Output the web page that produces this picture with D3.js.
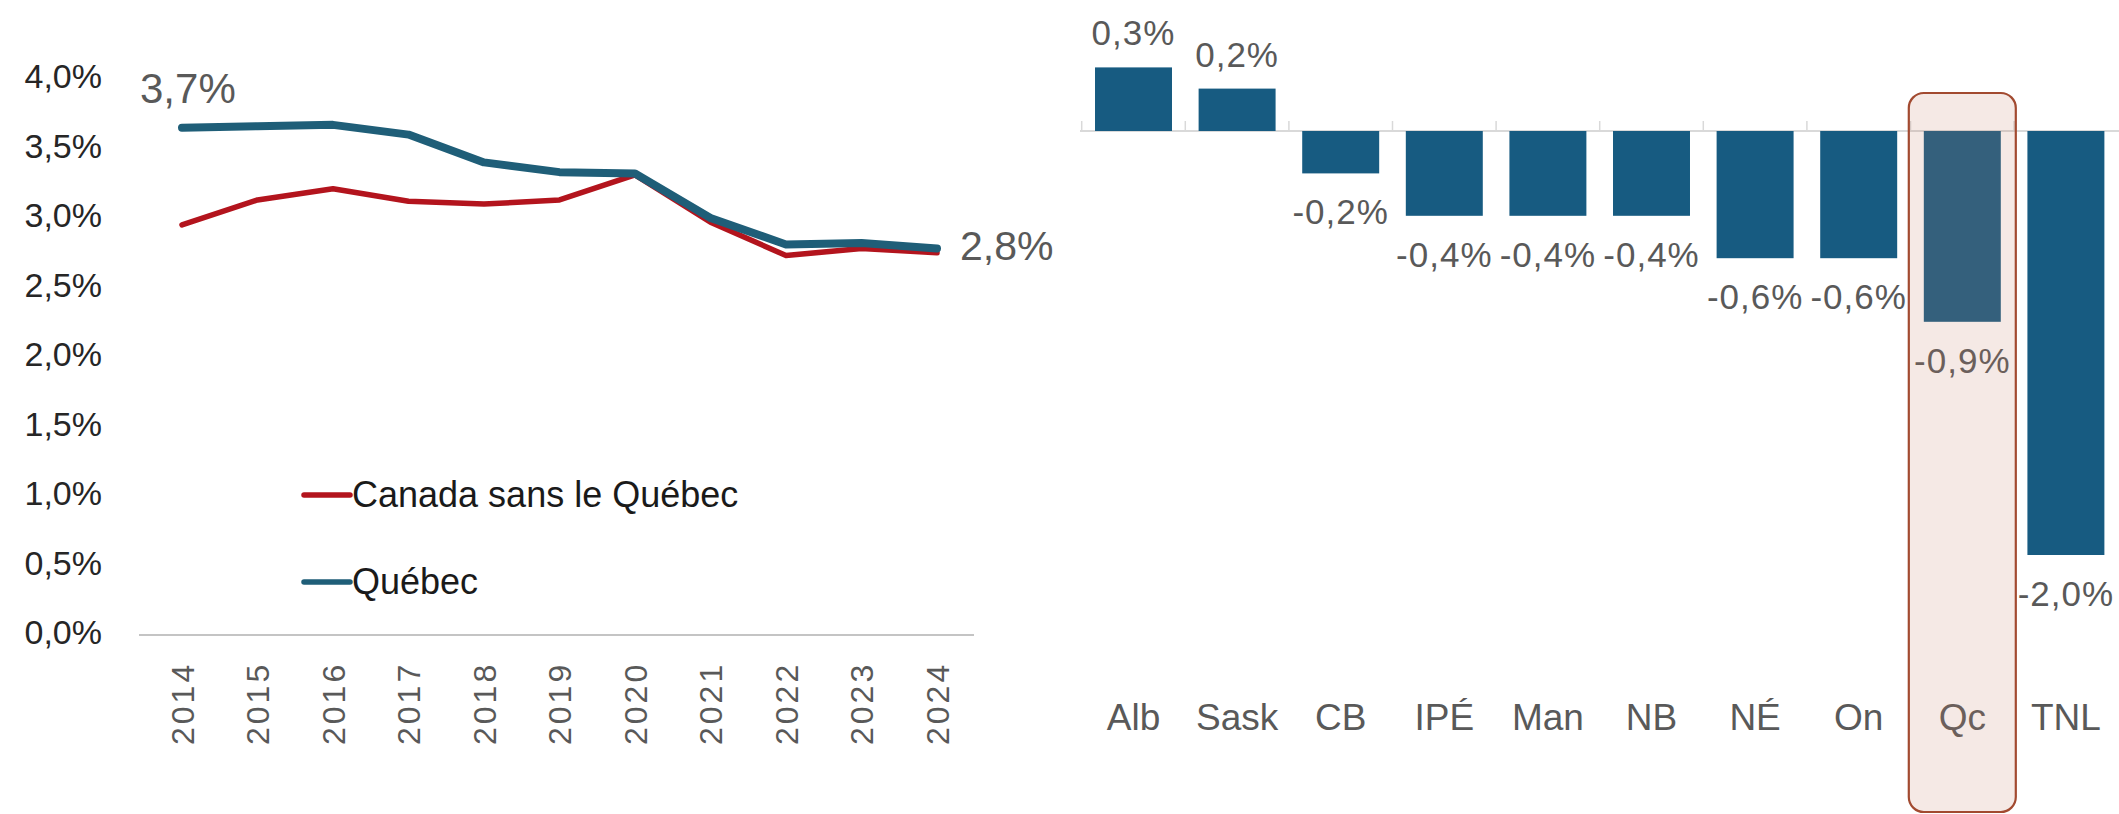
<!DOCTYPE html>
<html>
<head>
<meta charset="utf-8">
<script src="https://cdn.jsdelivr.net/npm/d3@7"></script>
<style>
  html, body { margin: 0; padding: 0; background: #ffffff; }
  svg { display: block; }
  text { font-family: "Liberation Sans", Arial, sans-serif; }
</style>
</head>
<body>
<svg id="chart" width="2119" height="814"></svg>
<script>
// ---------- data ----------
const years = [2014, 2015, 2016, 2017, 2018, 2019, 2020, 2021, 2022, 2023, 2024];
const quebec = [3.65, 3.66, 3.67, 3.60, 3.40, 3.33, 3.32, 3.00, 2.81, 2.82, 2.78];
const canadaSansQuebec = [2.95, 3.13, 3.21, 3.12, 3.10, 3.13, 3.31, 2.97, 2.73, 2.78, 2.75];
const yTicks = [0, 0.5, 1, 1.5, 2, 2.5, 3, 3.5, 4];
const seriesNames = ["Canada sans le Québec", "Québec"];
const firstLabel = "3,7%";
const lastLabel = "2,8%";

const provinces = ["Alb", "Sask", "CB", "IPÉ", "Man", "NB", "NÉ", "On", "Qc", "TNL"];
const growth = [0.3, 0.2, -0.2, -0.4, -0.4, -0.4, -0.6, -0.6, -0.9, -2.0];
const highlighted = "Qc";

// ---------- setup ----------
const fr = d3.formatLocale({ decimal: ",", thousands: " ", grouping: [3], currency: ["", " $"], minus: "-" });
const pct = v => fr.format(".1f")(v) + "%";

const svg = d3.select("#chart");
const RED = "#b3141d";
const BLUE = "#1f5e78";
const BAR = "#175b81";
const GREY_TXT = "#595959";

// ================= LEFT: line chart =================
const x = d3.scalePoint().domain(years).range([182, 937]);
const y = d3.scaleLinear().domain([0, 4]).range([635, 79]);

// baseline
svg.append("line")
  .attr("x1", 139).attr("x2", 974)
  .attr("y1", y(0)).attr("y2", y(0))
  .attr("stroke", "#c4c4c4").attr("stroke-width", 2);

// y axis labels
const yAxis = svg.append("g")
  .attr("transform", "translate(102,-2)")
  .call(d3.axisLeft(y).tickValues(yTicks).tickSize(0).tickPadding(0).tickFormat(pct));
yAxis.select(".domain").remove();
yAxis.selectAll("text")
  .attr("font-size", 34)
  .attr("fill", "#262626")
  .style("font-family", "'Liberation Sans', Arial, sans-serif");

// x axis labels (rotated years)
const xAxis = svg.append("g").attr("class", "xaxis");
xAxis.selectAll("text").data(years).join("text")
  .attr("transform", d => `translate(${x(d)},745) rotate(-90)`)
  .attr("text-anchor", "start")
  .attr("dy", "0.36em")
  .attr("font-size", 32)
  .attr("letter-spacing", 3)
  .attr("fill", GREY_TXT)
  .text(d => d);

// lines
const line = d3.line().x((d, i) => x(years[i])).y(d => y(d)).curve(d3.curveLinear);

svg.append("path")
  .datum(canadaSansQuebec)
  .attr("d", line)
  .attr("fill", "none")
  .attr("stroke", RED)
  .attr("stroke-width", 5.5)
  .attr("stroke-linejoin", "round")
  .attr("stroke-linecap", "round");

svg.append("path")
  .datum(quebec)
  .attr("d", line)
  .attr("fill", "none")
  .attr("stroke", BLUE)
  .attr("stroke-width", 8)
  .attr("stroke-linejoin", "round")
  .attr("stroke-linecap", "round");

// end labels
svg.append("text")
  .attr("x", x(years[0]) - 42).attr("y", 103)
  .attr("font-size", 42).attr("fill", GREY_TXT)
  .text(firstLabel);
svg.append("text")
  .attr("x", x(years[years.length - 1]) + 23).attr("y", 260)
  .attr("font-size", 41).attr("fill", GREY_TXT)
  .text(lastLabel);

// legend
const legend = svg.append("g");
const legendColors = [RED, BLUE];
const legendY = [495, 582];
seriesNames.forEach((name, i) => {
  legend.append("line")
    .attr("x1", 304).attr("x2", 350)
    .attr("y1", legendY[i]).attr("y2", legendY[i])
    .attr("stroke", legendColors[i]).attr("stroke-width", 5.5)
    .attr("stroke-linecap", "round");
  legend.append("text")
    .attr("x", 352).attr("y", legendY[i] + 12)
    .attr("font-size", 36).attr("fill", "#1a1a1a")
    .text(name);
});

// ================= RIGHT: bar chart =================
const xb = d3.scaleBand().domain(provinces).range([1081.7, 2117.7]).paddingInner(0.257).paddingOuter(0.1285);
const yb = d3.scaleLinear().domain([-2, 0.3]).range([555, 67.4]);
const zeroY = yb(0);

// zero line
svg.append("line")
  .attr("x1", 1080).attr("x2", 2119)
  .attr("y1", zeroY).attr("y2", zeroY)
  .attr("stroke", "#d9d9d9").attr("stroke-width", 2);

// small category separators
const step = xb.step();
const sepXs = provinces.map(p => xb(p) - (step - xb.bandwidth()) / 2);
svg.append("g").selectAll("line").data(sepXs).join("line")
  .attr("x1", d => d).attr("x2", d => d)
  .attr("y1", zeroY - 10).attr("y2", zeroY)
  .attr("stroke", "#d9d9d9").attr("stroke-width", 1.5);

// bars
svg.append("g").selectAll("rect").data(provinces).join("rect")
  .attr("x", d => xb(d))
  .attr("width", xb.bandwidth())
  .attr("y", (d, i) => Math.min(yb(growth[i]), zeroY))
  .attr("height", (d, i) => Math.abs(yb(growth[i]) - zeroY))
  .attr("fill", BAR);

// value labels
svg.append("g").selectAll("text").data(provinces).join("text")
  .attr("x", d => xb(d) + xb.bandwidth() / 2)
  .attr("y", (d, i) => growth[i] >= 0 ? yb(growth[i]) - 22 : yb(growth[i]) + 51)
  .attr("text-anchor", "middle")
  .attr("font-size", 35)
  .attr("letter-spacing", 1)
  .attr("fill", GREY_TXT)
  .text((d, i) => pct(growth[i]));

// category labels
svg.append("g").selectAll("text").data(provinces).join("text")
  .attr("x", d => xb(d) + xb.bandwidth() / 2)
  .attr("y", 730)
  .attr("text-anchor", "middle")
  .attr("font-size", 37)
  .attr("fill", GREY_TXT)
  .text(d => d);

// highlight box over Québec
const hx = xb(highlighted) + xb.bandwidth() / 2;
svg.append("rect")
  .attr("x", hx - 53.5).attr("width", 107)
  .attr("y", 93).attr("height", 719)
  .attr("rx", 15).attr("ry", 15)
  .attr("fill", "#c47f66").attr("fill-opacity", 0.17)
  .attr("stroke", "#a24a30").attr("stroke-width", 2.2);
</script>
</body>
</html>
